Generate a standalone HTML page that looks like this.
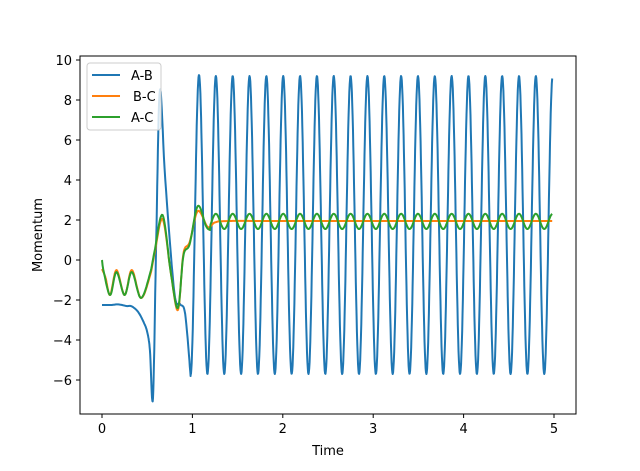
<!DOCTYPE html><html><head><style>body{margin:0;background:#fff}svg text{font-family:"DejaVu Sans","Liberation Sans",sans-serif;font-size:13px;fill:#000}</style></head><body>
<svg id="s" width="640" height="466" xmlns="http://www.w3.org/2000/svg">
<rect x="80" y="56" width="496" height="358" fill="#fff" stroke="none"/>
<g id="plot" fill="none" stroke-width="2" stroke-linejoin="round"></g>
<rect x="80" y="56" width="496" height="358" fill="none" stroke="#000" stroke-width="1"/>
<g id="ticks" stroke="#000" stroke-width="1"></g>
<g id="labels"></g>
<text x="328" y="455" text-anchor="middle">Time</text>
<text transform="translate(42,235) rotate(-90)" text-anchor="middle">Momentum</text>
<g>
<rect x="87" y="63" width="74" height="67" rx="3" fill="#fff" fill-opacity="0.8" stroke="#ccc"/>
<line x1="92" y1="75" x2="120" y2="75" stroke="#1f77b4" stroke-width="2"/><text x="131" y="80">A-B</text>
<line x1="92" y1="96" x2="120" y2="96" stroke="#ff7f0e" stroke-width="2"/><text x="133" y="101">B-C</text>
<line x1="92" y1="117" x2="120" y2="117" stroke="#2ca02c" stroke-width="2"/><text x="131" y="122">A-C</text>
</g>
</svg>
<script>
const X=t=>102+t*90.4, Y=v=>260-v*20;
const ns="http://www.w3.org/2000/svg";
function cr(pts,step){let o=[];for(let i=0;i<pts.length-1;i++){const p0=pts[Math.max(0,i-1)],p1=pts[i],p2=pts[i+1],p3=pts[Math.min(pts.length-1,i+2)];for(let k=0;k<step;k++){const s=k/step,s2=s*s,s3=s2*s;const f=(a,b,c,d)=>0.5*(2*b+(-a+c)*s+(2*a-5*b+4*c-d)*s2+(-a+3*b-3*c+d)*s3);o.push([f(p0[0],p1[0],p2[0],p3[0]),f(p0[1],p1[1],p2[1],p3[1])]);}}o.push(pts[pts.length-1]);return o;}
function path(pts,col){const p=document.createElementNS(ns,"path");p.setAttribute("d","M"+pts.map(q=>X(q[0]).toFixed(1)+","+Y(q[1]).toFixed(1)).join("L"));p.setAttribute("stroke",col);document.getElementById("plot").appendChild(p);}
const T=0.1863,t0=0.98;
// A-B
let ab=cr([[0,-2.25],[0.1,-2.25],[0.18,-2.22],[0.27,-2.3],[0.33,-2.32],[0.4,-2.6],[0.46,-3.1],[0.5,-3.6],[0.53,-4.5],[0.564,-6.9],[0.6,1],[0.64,8.5],[0.7,4],[0.8,-1.6],[0.863,-2.2],[0.92,-2.7],[0.98,-5.8]],10);
for(let t=t0;t<=4.98;t+=0.004){const a=t<1.1?7.5:7.45;ab.push([t,1.75-a*Math.cos(2*Math.PI*(t-t0)/T)]);}
path(ab,"#1f77b4");
// B-C
let bc=cr([[0,-0.45],[0.04,-0.9],[0.09,-1.75],[0.16,-0.5],[0.25,-1.75],[0.33,-0.5],[0.43,-1.9],[0.53,-0.8],[0.58,0.3],[0.67,2.05],[0.76,-0.6],[0.84,-2.5],[0.9,0.3],[0.97,0.9],[1.06,2.45],[1.17,1.65],[1.25,1.88],[1.4,1.95],[2,1.95],[4.98,1.95]],12);
path(bc,"#ff7f0e");
// A-C
let ac=cr([[0,0],[0.02,-0.6],[0.09,-1.75],[0.16,-0.6],[0.25,-1.75],[0.33,-0.6],[0.43,-1.9],[0.53,-0.7],[0.58,0.4],[0.67,2.25],[0.76,-0.6],[0.84,-2.4],[0.9,0.2],[0.97,0.8],[1.06,2.7],[1.15,1.7],[1.195,1.5]],12);
for(let t=1.2;t<=4.98;t+=0.004){ac.push([t,1.93-0.38*Math.cos(2*Math.PI*(t-t0)/T)]);}
path(ac,"#2ca02c");
const tk=document.getElementById("ticks"),lb=document.getElementById("labels");
function L(x1,y1,x2,y2){const l=document.createElementNS(ns,"line");l.setAttribute("x1",x1);l.setAttribute("y1",y1);l.setAttribute("x2",x2);l.setAttribute("y2",y2);tk.appendChild(l);}
function Tx(x,y,s,a){const t=document.createElementNS(ns,"text");t.setAttribute("x",x);t.setAttribute("y",y);t.setAttribute("text-anchor",a);t.textContent=s;lb.appendChild(t);}
for(let k=0;k<=5;k++){const x=X(k);L(x,414,x,418);Tx(x,433,String(k),"middle");}
for(let v=-6;v<=10;v+=2){const y=Y(v);L(76,y,80,y);Tx(72,y+5,(v<0?"\u2212":"")+Math.abs(v),"end");}
</script>
</body></html>
